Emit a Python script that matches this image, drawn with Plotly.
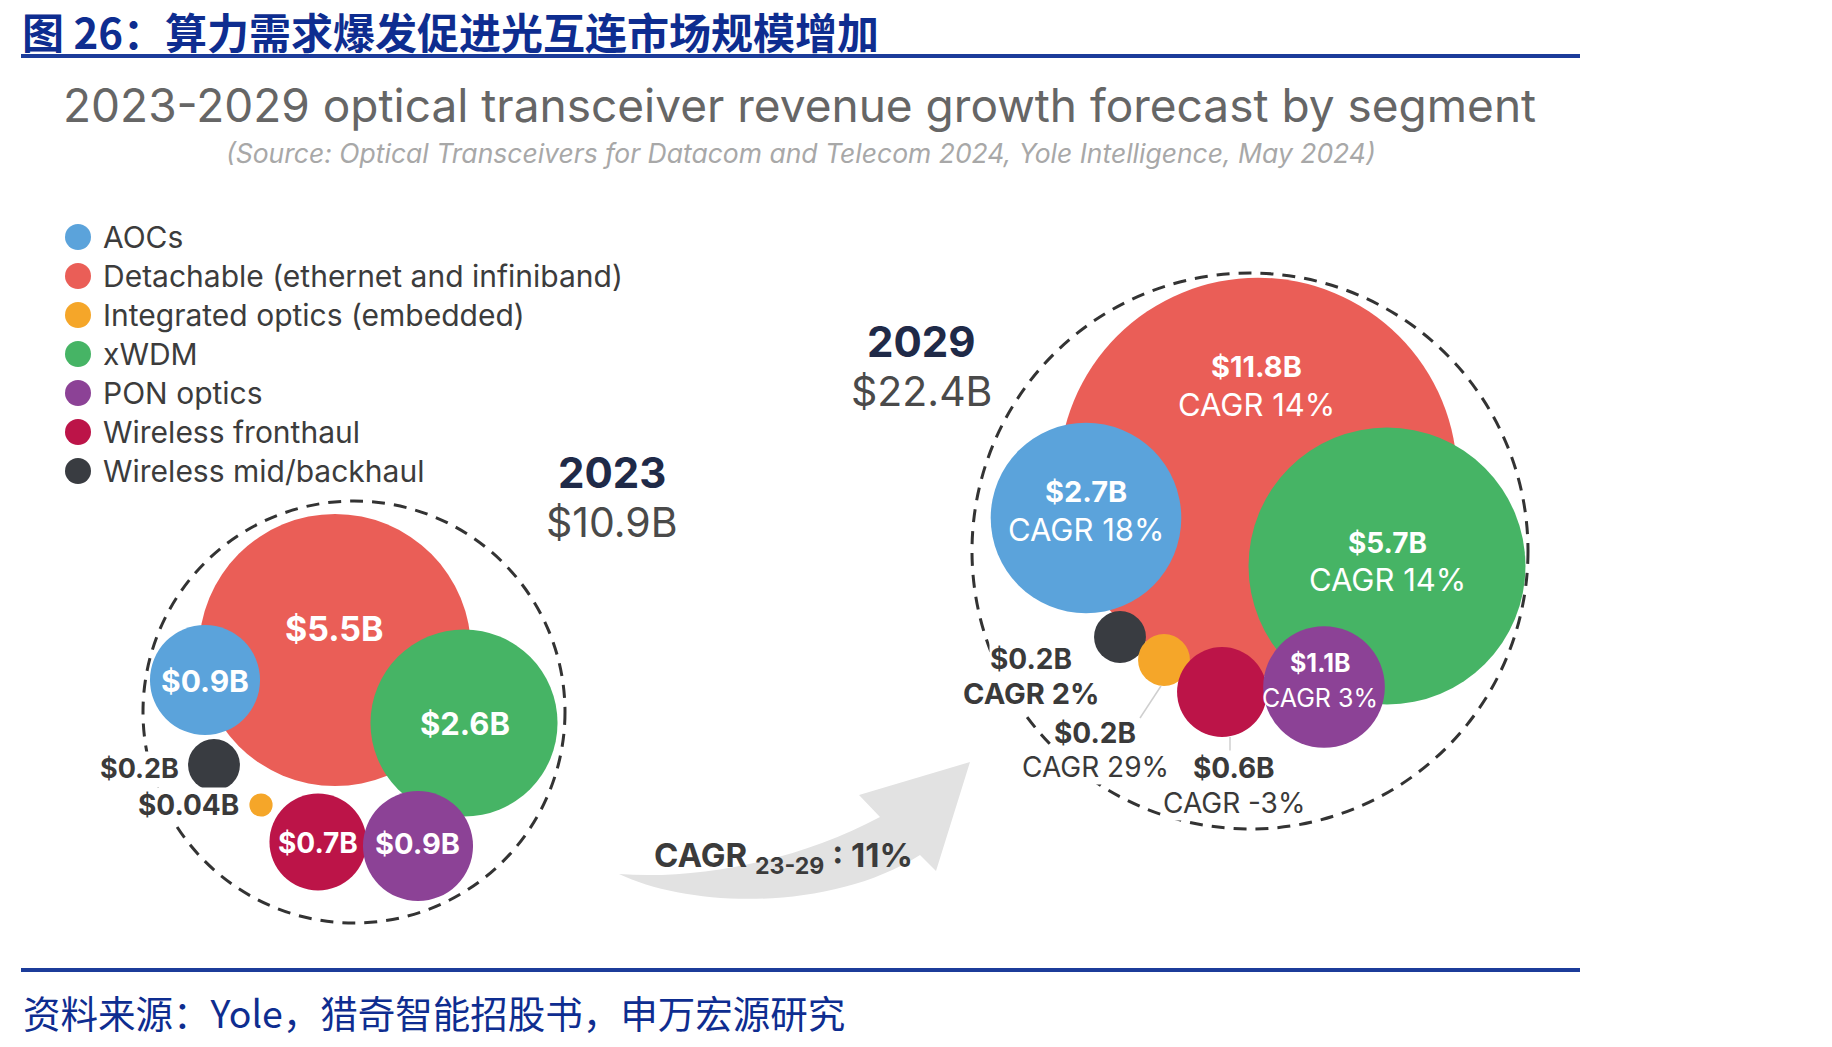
import math
import plotly.graph_objects as go

# ---------------- data ----------------
segments = ["AOCs", "Detachable (ethernet and infiniband)", "Integrated optics (embedded)",
            "xWDM", "PON optics", "Wireless fronthaul", "Wireless mid/backhaul"]
rev_2023 = [0.9, 5.5, 0.04, 2.6, 0.9, 0.7, 0.2]      # $B
rev_2029 = [2.7, 11.8, 0.2, 5.7, 1.1, 0.6, 0.2]      # $B
cagr_23_29 = [18, 14, 29, 14, 3, -3, 2]              # %
years = ["2023", "2029"]
totals = [10.9, 22.4]                                # $B
overall_cagr = 11                                    # %

title_cn = "图 26：算力需求爆发促进光互连市场规模增加"
subtitle = "2023-2029 optical transceiver revenue growth forecast by segment"
source_en = "(Source: Optical Transceivers for Datacom and Telecom 2024, Yole Intelligence, May 2024)"
source_cn = "资料来源：Yole，猎奇智能招股书，申万宏源研究"

# ---------------- layout / style ----------------
W, H = 1832, 1047
K = 58  # bubble radius in px per sqrt($B)
colors = ["#5BA3DB", "#EA5E57", "#F5A629", "#46B465", "#8C4296", "#BC1448", "#393C41"]
EN = "Inter, Open Sans, sans-serif"
CN = "Noto Sans CJK SC, sans-serif"
DARK = "#3A3A3A"
NAVY = "#1F2A48"
BLUE = "#0E2D90"

pos_2023 = [(205, 680), (335, 650), (261, 805), (464, 723), (418, 846), (318, 842), (214, 765)]
pos_2029 = [(1086, 518), (1258, 477), (1164, 660), (1387, 566), (1324, 687), (1222, 692), (1120, 637)]
order = [1, 0, 3, 6, 2, 5, 4]

inside_2023 = [True, True, False, True, True, True, False]
lab_2023 = [(205, 681), (334, 628), (240, 805), (465, 723), (417, 843), (318, 843), (180, 768)]
fs_2023 = [30, 34, 28, 31, 29, 28, 27]

inside_2029 = [True, True, False, True, True, False, False]
lab_2029 = [(1086, 491, 529), (1256, 366, 404), (1095, 733, 767), (1387, 543, 579),
            (1320, 663, 698), (1234, 768, 803), (1031, 659, 693)]
fs_2029 = [29, 29, 28, 28, 25, 28, 28]
fsc_2029 = [31, 31, 28, 31, 25, 28, 29]

fig = go.Figure()

# enclosing dashed circles
for (cx, cy, R) in [(354, 712, 211), (1250, 551, 278)]:
    fig.add_shape(type="circle", xref="x", yref="y", x0=cx - R, x1=cx + R, y0=cy - R, y1=cy + R,
                  line=dict(color="#333333", width=3, dash="13px,9px"), layer="below")

# growth arrow
fig.add_shape(type="path", xref="x", yref="y",
              path="M 619 874 C 690 908, 830 912, 920 855 L 936 871 L 970 762 L 859 795 L 880 817 "
                   "C 800 860, 700 880, 619 874 Z",
              fillcolor="#E2E2E2", line=dict(width=0), layer="below")

# leader lines (2029 small bubbles)
for (x0, y0, x1, y1) in [(1161, 686, 1140, 718), (1230, 737, 1230, 755)]:
    fig.add_shape(type="line", xref="x", yref="y", x0=x0, y0=y0, x1=x1, y1=y1,
                  line=dict(color="#CFCFCF", width=1.5))

# bubbles
for vals, pos in [(rev_2023, pos_2023), (rev_2029, pos_2029)]:
    fig.add_trace(go.Scatter(
        x=[pos[i][0] for i in order], y=[pos[i][1] for i in order], mode="markers",
        marker=dict(size=[2 * K * math.sqrt(vals[i]) for i in order],
                    color=[colors[i] for i in order], opacity=1, line=dict(width=0)),
        hoverinfo="skip", showlegend=False))

# legend (manual, large dots)
leg_y = [237 + 39 * i for i in range(len(segments))]
fig.add_trace(go.Scatter(x=[78] * len(segments), y=leg_y, mode="markers",
                         marker=dict(size=26, color=colors, line=dict(width=0)),
                         hoverinfo="skip", showlegend=False))
ann = []
for i, s in enumerate(segments):
    ann.append(dict(x=101, y=leg_y[i], text=s, xanchor="left", yanchor="middle",
                    font=dict(family=EN, size=30, color="#3C3C3C")))

def fmt(v):
    return "$" + str(v) + "B"

# 2023 labels
for i, v in enumerate(rev_2023):
    x, y = lab_2023[i]
    if inside_2023[i]:
        ann.append(dict(x=x, y=y, text="<b>" + fmt(v) + "</b>", xanchor="center", yanchor="middle",
                        font=dict(family=EN, size=fs_2023[i], color="white")))
    else:
        ann.append(dict(x=x, y=y, text="<b>" + fmt(v) + "</b>", xanchor="right", yanchor="middle",
                        bgcolor="white", borderpad=0,
                        font=dict(family=EN, size=fs_2023[i], color=DARK)))

# 2029 labels
for i, v in enumerate(rev_2029):
    x, yv, yc = lab_2029[i]
    inside = inside_2029[i]
    col = "white" if inside else DARK
    c_txt = "CAGR " + str(cagr_23_29[i]) + "%"
    if segments[i] == "Wireless mid/backhaul":
        c_txt = "<b>" + c_txt + "</b>"
    extra = {} if inside else dict(bgcolor="white", borderpad=0)
    ann.append(dict(x=x, y=yv, text="<b>" + fmt(v) + "</b>", xanchor="center", yanchor="middle",
                    font=dict(family=EN, size=fs_2029[i], color=col), **extra))
    ann.append(dict(x=x, y=yc, text=c_txt, xanchor="center", yanchor="middle",
                    font=dict(family=EN, size=fsc_2029[i], color=col), **extra))

# year totals
for (x, y1, y2), yr, tot in [((612, 472, 522), years[0], totals[0]), ((921, 341, 391), years[1], totals[1])]:
    ann.append(dict(x=x, y=y1, text="<b>" + yr + "</b>", xanchor="center", yanchor="middle",
                    font=dict(family=EN, size=42, color=NAVY)))
    ann.append(dict(x=x, y=y2, text=fmt(tot), xanchor="center", yanchor="middle",
                    font=dict(family=EN, size=41, color="#4A4A4A")))

# overall CAGR
ann.append(dict(x=652, y=857, text="<b>CAGR <sub>23-29</sub> : " + str(overall_cagr) + "%</b>",
                xanchor="left", yanchor="middle", font=dict(family=EN, size=33, color="#3B3B3B")))

# titles
ann.append(dict(x=21, y=30, text="<b>" + title_cn + "</b>", xanchor="left", yanchor="middle",
                borderpad=0, font=dict(family=CN, size=42, color=BLUE)))
ann.append(dict(x=799, y=105, text=subtitle, xanchor="center", yanchor="middle",
                font=dict(family=EN, size=46, color="#666666")))
ann.append(dict(x=801, y=153, text="<i>" + source_en + "</i>", xanchor="center", yanchor="middle",
                font=dict(family=EN, size=26.5, color="#A8A8A8")))
ann.append(dict(x=21, y=1011, text=source_cn, xanchor="left", yanchor="middle",
                font=dict(family=CN, size=37.5, color=BLUE)))

for a in ann:
    a.update(xref="x", yref="y", showarrow=False)

for yl in [56, 970]:
    fig.add_shape(type="line", xref="x", yref="y", x0=21, x1=1580, y0=yl, y1=yl,
                  line=dict(color="#1C3C9A", width=4))

fig.update_layout(
    width=W, height=H, autosize=False,
    margin=dict(l=0, r=0, t=0, b=0, pad=0),
    paper_bgcolor="white", plot_bgcolor="white",
    xaxis=dict(range=[0, W], visible=False, fixedrange=True),
    yaxis=dict(range=[H, 0], visible=False, fixedrange=True),
    annotations=ann, showlegend=False,
)

fig.write_html("out.html")
